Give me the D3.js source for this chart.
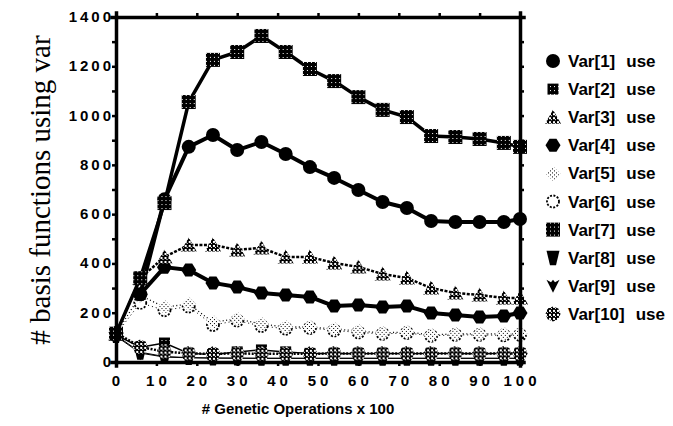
<!DOCTYPE html>
<html>
<head>
<meta charset="utf-8">
<script src="https://cdnjs.cloudflare.com/ajax/libs/d3/7.8.5/d3.min.js"></script>
<style>
body{margin:0;background:#fff}
text{font-family:"Liberation Sans",Arial,sans-serif;font-weight:bold;fill:#000}
</style>
</head>
<body>
<svg id="chart" width="673" height="426"></svg>
<script>
// genetic operations (x100)
var steps = [0,6,12,18,24,30,36,42,48,54,60,66,72,78,84,90,96,100];

var var1  = [null,275,660,873,921,860,893,844,791,747,698,649,625,572,568,568,568,580];
var var2  = [110,60,77,35,30,41,49,41,35,35,33,35,33,35,35,33,35,35];
var var3  = [115,340,426,475,475,455,463,426,426,402,386,357,341,300,280,272,260,260];
var var4  = [null,275,385,373,321,304,280,272,264,227,231,223,227,199,191,183,187,199];
var var5  = [115,270,223,235,162,175,154,142,142,134,126,118,122,110,114,114,114,114];
var var6  = [112,240,210,225,150,168,146,135,138,128,120,114,118,106,110,110,108,110];
var var7  = [115,340,645,1055,1226,1258,1323,1258,1189,1140,1075,1023,994,917,913,905,889,873];
var var8  = [108,40,22,18,16,16,15,15,15,15,15,15,15,15,15,15,15,15];
var var9  = [105,36,20,17,16,15,15,15,15,15,15,15,15,15,15,15,15,15];
var var10 = [118,61,42,35,33,35,33,33,33,35,35,35,35,35,35,35,35,35];

var legendNames = ["Var[1]","Var[2]","Var[3]","Var[4]","Var[5]","Var[6]","Var[7]","Var[8]","Var[9]","Var[10]"];
var xTicks = [0,10,20,30,40,50,60,70,80,90,100];
var yTicks = [0,200,400,600,800,1000,1200,1400];

var svg = d3.select("#chart");

var x = d3.scaleLinear().domain([0,100]).range([116,520]);
var y = d3.scaleLinear().domain([0,1400]).range([362,17]);

// fill patterns for the markers
var defs = svg.append("defs");
var p = defs.append("pattern").attr("id","dense").attr("width",4).attr("height",4).attr("patternUnits","userSpaceOnUse");
p.append("rect").attr("width",4).attr("height",4).attr("fill","#000");
p.append("rect").attr("x",1).attr("y",1).attr("width",1).attr("height",1).attr("fill","#fff");
p = defs.append("pattern").attr("id","check").attr("width",4).attr("height",4).attr("patternUnits","userSpaceOnUse");
p.append("rect").attr("width",4).attr("height",4).attr("fill","#000");
p.append("rect").attr("x",0).attr("y",0).attr("width",2).attr("height",2).attr("fill","#fff");
p.append("rect").attr("x",2).attr("y",2).attr("width",1).attr("height",1).attr("fill","#fff");
p = defs.append("pattern").attr("id","sparse").attr("width",4).attr("height",4).attr("patternUnits","userSpaceOnUse");
p.append("rect").attr("width",4).attr("height",4).attr("fill","#fff");
p.append("rect").attr("x",1).attr("y",1).attr("width",1).attr("height",1).attr("fill","#000");
p.append("rect").attr("x",3).attr("y",3).attr("width",1).attr("height",1).attr("fill","#000");

// marker shapes, drawn around 0,0
var shapes = {
  circle: function(g){ g.append("circle").attr("r",7).attr("fill","#000"); },
  square: function(g){ g.append("rect").attr("x",-5.5).attr("y",-5.5).attr("width",11).attr("height",11).attr("fill","url(#dense)"); },
  tri: function(g){ g.append("path").attr("d","M0,-7.5L8,6.5L-8,6.5Z").attr("fill","url(#check)"); },
  hex: function(g){ g.append("path").attr("d","M-7.5,0L-3.5,-6.5L3.5,-6.5L7.5,0L3.5,6.5L-3.5,6.5Z").attr("fill","#000"); },
  dots: function(g){ g.append("path").attr("d","M0,-7.5L7.5,0L0,7.5L-7.5,0Z").attr("fill","url(#sparse)"); },
  ring: function(g){ g.append("circle").attr("r",6).attr("fill","#fff").attr("stroke","#000").attr("stroke-width",1.8).attr("stroke-dasharray","2,1.5"); },
  big: function(g){ g.append("rect").attr("x",-7).attr("y",-7).attr("width",14).attr("height",14).attr("fill","url(#dense)"); },
  trap: function(g){ g.append("path").attr("d","M-6.5,-7L6.5,-7L3,7.5L-3,7.5Z").attr("fill","#000"); },
  heart: function(g){ g.append("path").attr("d","M-6.5,-6L-2,-3.5L0,-6L2,-3.5L6.5,-6L0,7Z").attr("fill","#000"); },
  flower: function(g){ g.append("path").attr("d","M0,-7.5L5.3,-5.3L7.5,0L5.3,5.3L0,7.5L-5.3,5.3L-7.5,0L-5.3,-5.3Z").attr("fill","url(#check)"); }
};

var series = [
  {name:"Var[8]",  values:var8,  shape:"trap",   width:1,   dash:null},
  {name:"Var[9]",  values:var9,  shape:"heart",  width:1,   dash:null},
  {name:"Var[6]",  values:var6,  shape:"ring",   width:1,   dash:"1,3"},
  {name:"Var[5]",  values:var5,  shape:"dots",   width:1.3, dash:"1,2.5"},
  {name:"Var[2]",  values:var2,  shape:"square", width:1.5, dash:null},
  {name:"Var[10]", values:var10, shape:"flower", width:2.5, dash:"2,1.5"},
  {name:"Var[4]",  values:var4,  shape:"hex",    width:4,   dash:null},
  {name:"Var[3]",  values:var3,  shape:"tri",    width:2.5, dash:"3,1.5"},
  {name:"Var[1]",  values:var1,  shape:"circle", width:4,   dash:null},
  {name:"Var[7]",  values:var7,  shape:"big",    width:3.5, dash:null}
];

var line = d3.line()
  .defined(function(d){ return d.v != null; })
  .x(function(d){ return x(d.t); })
  .y(function(d){ return y(d.v); });

series.forEach(function(s){
  var pts = steps.map(function(t,i){ return {t:t, v:s.values[i]}; });
  var g = svg.append("g").attr("class","series");
  g.append("path").datum(pts)
    .attr("d",line)
    .attr("fill","none")
    .attr("stroke","#000")
    .attr("stroke-width",s.width)
    .attr("stroke-dasharray",s.dash)
    .attr("stroke-linejoin","round");
  g.selectAll(".mk").data(pts.filter(function(d){ return d.v != null; }))
    .enter().append("g").attr("class","mk")
    .attr("transform",function(d){ return "translate("+x(d.t)+","+y(d.v)+")"; })
    .each(function(){ shapes[s.shape](d3.select(this)); });
});

// frame and axes
var axisLeft = d3.axisLeft(y).tickValues(d3.range(0,1401,100)).tickSize(4).tickFormat("");
var axisRight = d3.axisRight(y).tickValues(d3.range(0,1401,100)).tickSize(4).tickFormat("");
var axisBottom = d3.axisBottom(x).tickValues(xTicks).tickSize(4).tickFormat("");
var axisTop = d3.axisTop(x).tickValues(xTicks).tickSize(4).tickFormat("");

function styleAxis(g){
  g.select(".domain").attr("stroke","#000").attr("stroke-width",3.5);
  g.selectAll(".tick line").attr("stroke","#000").attr("stroke-width",2.5);
}
svg.append("g").attr("transform","translate(116,0)").call(axisLeft).call(styleAxis);
svg.append("g").attr("transform","translate(520,0)").call(axisRight).call(styleAxis);
svg.append("g").attr("transform","translate(0,362)").call(axisBottom).call(styleAxis);
svg.append("g").attr("transform","translate(0,17)").call(axisTop).call(styleAxis);
svg.selectAll(".domain").attr("stroke-linecap","square");

// tick labels
svg.selectAll(".ylab").data(yTicks).enter().append("text")
  .attr("x",114).attr("y",function(d){ return y(d)+5; })
  .attr("text-anchor","end")
  .attr("font-size",15).attr("letter-spacing",3)
  .text(function(d){ return d; });

svg.selectAll(".xlab").data(xTicks).enter().append("text")
  .attr("x",function(d){ return x(d)+2; }).attr("y",386)
  .attr("text-anchor","middle")
  .attr("font-size",15).attr("letter-spacing",4)
  .text(function(d){ return d; });

// titles
svg.append("text")
  .attr("x",298).attr("y",414)
  .attr("text-anchor","middle")
  .attr("font-size",15)
  .text("# Genetic Operations x 100");

svg.append("text")
  .attr("transform","translate(50,190) rotate(-90)")
  .attr("text-anchor","middle")
  .style("font-family","'Liberation Serif','Times New Roman',serif")
  .style("font-weight","normal")
  .attr("font-size",29)
  .text("# basis functions using var");

// legend
var legendShapes = ["circle","square","tri","hex","dots","ring","big","trap","heart","flower"];
var leg = svg.selectAll(".leg").data(legendNames).enter().append("g")
  .attr("class","leg")
  .attr("transform",function(d,i){ return "translate(553,"+(61+i*28.1)+")"; });
leg.each(function(d,i){ shapes[legendShapes[i]](d3.select(this)); });
var lt = leg.append("text").attr("x",15).attr("y",6).attr("font-size",17);
lt.append("tspan").text(function(d){ return d; });
lt.append("tspan").attr("dx",11).text("use");
</script>
</body>
</html>
